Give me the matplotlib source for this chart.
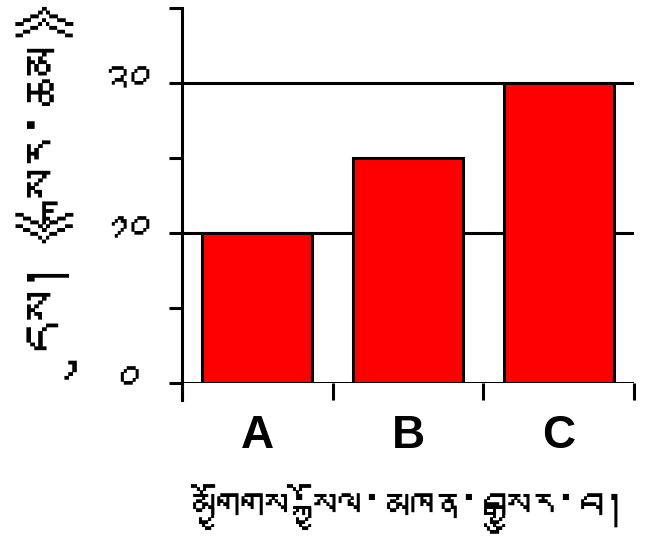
import matplotlib
matplotlib.use("Agg")
import matplotlib.pyplot as plt
from matplotlib import font_manager
from matplotlib.font_manager import FontProperties
from matplotlib.ticker import FixedLocator

categories = ['A', 'B', 'C']
values = [10, 15, 20]
ytick_values = [0, 10, 20]
ytick_labels = ['༠', '༡༠', '༢༠']
xlabel = 'མགྱོགས་སྐྱོལ་མཁན་བསྒྱུར་བ།'
ylabel = 'དུས།《སྐར་ཆམ》'


def find_tibetan_font():
    """Look for an installed font that covers Tibetan letters and digits."""
    try:
        from fontTools.ttLib import TTFont
    except ImportError:
        return None
    for path in sorted(font_manager.findSystemFonts()):
        try:
            f = TTFont(path, fontNumber=0, lazy=True)
            cmap = f.getBestCmap()
            if cmap and 0x0F40 in cmap and 0x0F22 in cmap:
                return path
        except Exception:
            pass
    return None


tib_path = find_tibetan_font()
if tib_path:
    font_manager.fontManager.addfont(tib_path)
    tib_family = FontProperties(fname=tib_path).get_name()
else:
    tib_family = 'DejaVu Sans'
tib_fonts = [tib_family, 'DejaVu Sans']

fig = plt.figure(figsize=(6.48, 5.37), dpi=100)
ax = fig.add_axes([182 / 648, 1 - 383 / 537, 452 / 648, 375 / 537])

x = list(range(len(categories)))
ax.bar(x, values, width=0.73, color='#ff0000', edgecolor='black',
       linewidth=2.2, zorder=3)

ax.set_xlim(-0.5, 2.5)
ax.set_ylim(0, 25)

# black grid at the labelled ticks, behind the bars
ax.yaxis.set_major_locator(FixedLocator(ytick_values))
ax.yaxis.set_minor_locator(FixedLocator([5, 15, 25]))
ax.set_yticklabels(ytick_labels, family=tib_fonts, fontsize=34, ha='center')
ax.yaxis.grid(True, which='major', color='black', linewidth=2.2)
ax.set_axisbelow(True)
ax.tick_params(axis='y', which='both', direction='out', length=9.5,
               width=2.2, color='black', pad=31)

# x ticks at the category boundaries, labels at the centres
ax.xaxis.set_major_locator(FixedLocator([-0.5, 0.5, 1.5, 2.5]))
ax.xaxis.set_major_formatter(plt.NullFormatter())
ax.xaxis.set_minor_locator(FixedLocator(x))
ax.set_xticklabels(categories, minor=True, family='Liberation Sans',
                   fontweight='bold', fontsize=33)
ax.tick_params(axis='x', which='major', direction='out', length=12,
               width=2.2, color='black')
ax.tick_params(axis='x', which='minor', length=0, pad=22)

for side in ['top', 'right', 'bottom']:
    ax.spines[side].set_visible(False)
ax.spines['left'].set_linewidth(2.2)
ax.spines['left'].set_bounds(-1.14, 25)

ax.set_xlabel(xlabel, family=tib_fonts, fontsize=35)
ax.xaxis.set_label_coords(0.5, -0.27)
ax.set_ylabel(ylabel, family=tib_fonts, fontsize=44)
ax.yaxis.set_label_coords(-0.17, 0.5)

fig.savefig('out.png', dpi=100)
